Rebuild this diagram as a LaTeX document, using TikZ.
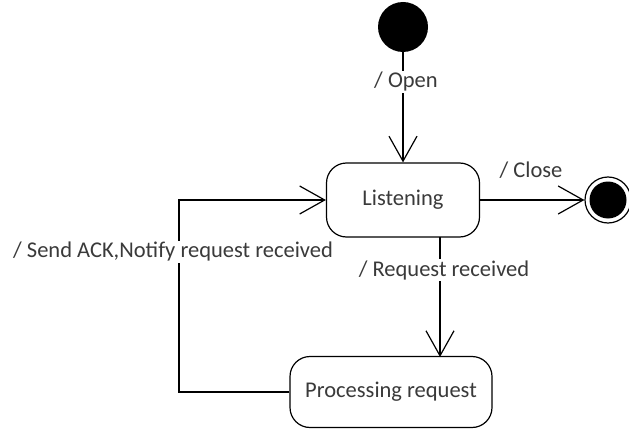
\documentclass[tikz,border=0pt]{standalone}
\usepackage{fontspec}
\setmainfont{Carlito}
\usetikzlibrary{arrows.meta}
\definecolor{txt}{HTML}{3A3A3A}
\begin{document}
\begin{tikzpicture}[x=1pt,y=-1pt,
  statebox/.style={draw=black,line width=1.2pt,rounded corners=20pt,fill=white,
    font=\fontsize{22.5}{26}\selectfont,text=txt,inner sep=0pt},
  lbl/.style={font=\fontsize{22.5}{26}\selectfont,text=txt,fill=white,inner sep=1pt},
  conn/.style={draw=black,line width=1.2pt,-{Straight Barb[length=25pt,width=28pt,line width=1.2pt]}}]
\useasboundingbox (0,0) rectangle (629,433);
\node[circle,fill=black,minimum size=50pt,inner sep=0pt] (init) at (403,27) {};
\node[statebox,minimum width=153pt,minimum height=74pt] (listen) at (403,200) {Listening};
\node[statebox,minimum width=202pt,minimum height=71pt] (proc) at (391,392) {Processing request};
\node[circle,draw=black,line width=1.2pt,minimum size=46pt,inner sep=0pt] (final) at (608,200) {};
\node[circle,fill=black,minimum size=37pt,inner sep=0pt] at (final.center) {};
\coordinate (c1) at (179,392);
\coordinate (c2) at (179,200);
\coordinate (rtop) at (440,237);
\coordinate (rbot) at (440,357);
\draw[conn] (init.south) -- (listen.north);
\node[lbl] at (406,82) {/ Open};
\draw[conn] (listen.east) -- (final.west);
\node[lbl] at (531,170) {/ Close};
\draw[conn] (rtop) -- (rbot);
\node[lbl] at (444,270) {/ Request received};
\draw[conn] (proc.west) -- (c1) -- (c2) -- (listen.west);
\node[lbl] at (173,252) {/ Send ACK,Notify request received};
\end{tikzpicture}
\end{document}
